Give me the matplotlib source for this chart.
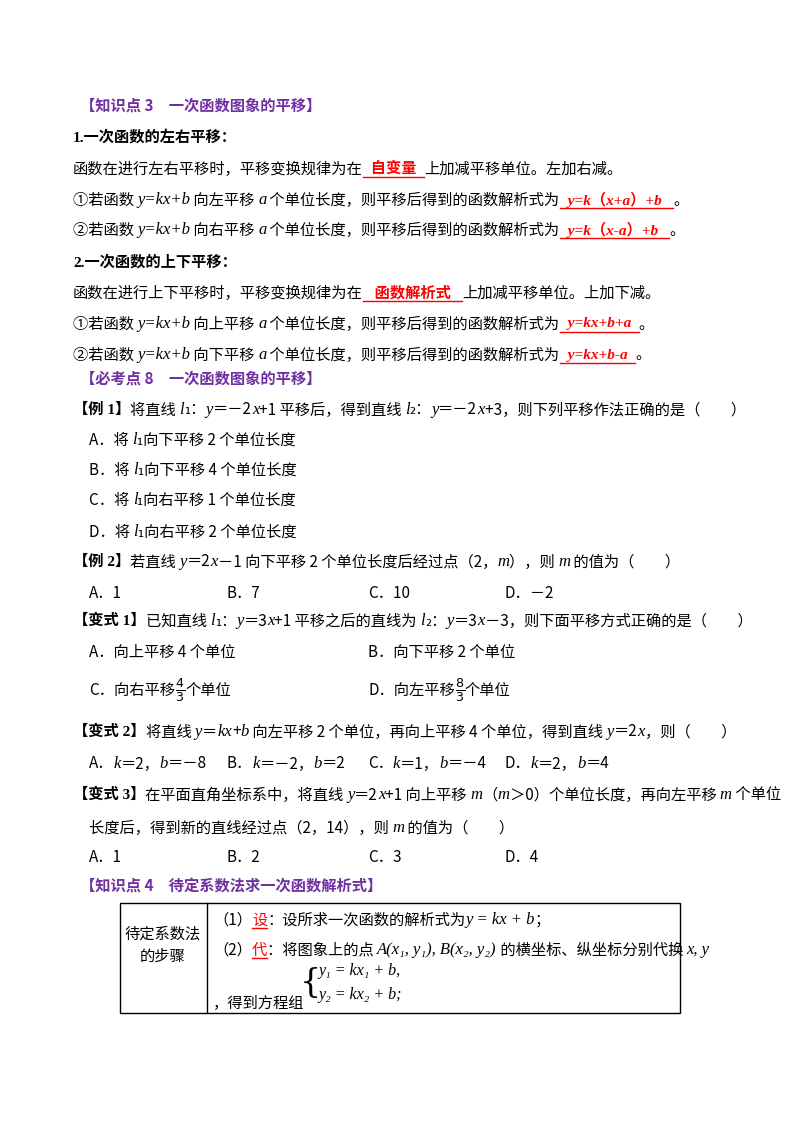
import matplotlib
matplotlib.use("Agg")
import matplotlib.pyplot as plt
from matplotlib.patches import Rectangle

plt.rcParams['font.family'] = ['Noto Sans CJK SC', 'DejaVu Sans']

W, H = 800, 1132
PURPLE = '#7030a0'
RED = '#ff0000'

# each line: (x, y, [(text, style), ...]); styles: n normal, b bold, i italic, r red answer, p purple heading
lines = [
    (80, 106, [('【知识点 3　一次函数图象的平移】', 'p')]),
    (73, 137, [('1.一次函数的左右平移：', 'b')]),
    (73, 169, [('函数在进行左右平移时，平移变换规律为在', 'n'), ('  自变量  ', 'r'), ('上加减平移单位。左加右减。', 'n')]),
    (73, 200, [('①若函数 ', 'n'), ('y=kx+b', 'i'), (' 向左平移 ', 'n'), ('a', 'i'), (' 个单位长度，则平移后得到的函数解析式为', 'n'), ('  y=k（x+a）+b   ', 'r'), ('。', 'n')]),
    (73, 230, [('②若函数 ', 'n'), ('y=kx+b', 'i'), (' 向右平移 ', 'n'), ('a', 'i'), (' 个单位长度，则平移后得到的函数解析式为', 'n'), ('  y=k（x-a）+b   ', 'r'), ('。', 'n')]),
    (73, 262, [('2.一次函数的上下平移：', 'b')]),
    (73, 293, [('函数在进行上下平移时，平移变换规律为在', 'n'), ('   函数解析式   ', 'r'), ('上加减平移单位。上加下减。', 'n')]),
    (73, 324, [('①若函数 ', 'n'), ('y=kx+b', 'i'), (' 向上平移 ', 'n'), ('a', 'i'), (' 个单位长度，则平移后得到的函数解析式为', 'n'), ('  y=kx+b+a  ', 'r'), ('。', 'n')]),
    (73, 355, [('②若函数 ', 'n'), ('y=kx+b', 'i'), (' 向下平移 ', 'n'), ('a', 'i'), (' 个单位长度，则平移后得到的函数解析式为', 'n'), ('  y=kx+b-a  ', 'r'), ('。', 'n')]),
    (80, 379, [('【必考点 8　一次函数图象的平移】', 'p')]),
    (73, 410, [('【例 1】', 'b'), ('将直线 ', 'n'), ('l', 'i'), ('₁：', 'n'), ('y', 'i'), ('＝－2', 'n'), ('x', 'i'), ('+1 平移后，得到直线 ', 'n'), ('l', 'i'), ('₂：', 'n'), ('y', 'i'), ('＝－2', 'n'), ('x', 'i'), ('+3，则下列平移作法正确的是（　　）', 'n')]),
    (89, 440, [('A．将 ', 'n'), ('l', 'i'), ('₁向下平移 2 个单位长度', 'n')]),
    (89, 470, [('B．将 ', 'n'), ('l', 'i'), ('₁向下平移 4 个单位长度', 'n')]),
    (89, 500, [('C．将 ', 'n'), ('l', 'i'), ('₁向右平移 1 个单位长度', 'n')]),
    (89, 532, [('D．将 ', 'n'), ('l', 'i'), ('₁向右平移 2 个单位长度', 'n')]),
    (73, 562, [('【例 2】', 'b'), ('若直线 ', 'n'), ('y', 'i'), ('＝2', 'n'), ('x', 'i'), ('－1 向下平移 2 个单位长度后经过点（2，', 'n'), ('m', 'i'), ('），则 ', 'n'), ('m', 'i'), (' 的值为（　　）', 'n')]),
    (73, 621, [('【变式 1】', 'b'), ('已知直线 ', 'n'), ('l', 'i'), ('₁：', 'n'), ('y', 'i'), ('＝3', 'n'), ('x', 'i'), ('+1 平移之后的直线为 ', 'n'), ('l', 'i'), ('₂：', 'n'), ('y', 'i'), ('＝3', 'n'), ('x', 'i'), ('－3，则下面平移方式正确的是（　　）', 'n')]),
    (73, 732, [('【变式 2】', 'b'), ('将直线 ', 'n'), ('y', 'i'), ('＝', 'n'), ('kx', 'i'), ('+', 'n'), ('b', 'i'), (' 向左平移 2 个单位，再向上平移 4 个单位，得到直线 ', 'n'), ('y', 'i'), ('＝2', 'n'), ('x', 'i'), ('，则（　　）', 'n')]),
    (73, 795, [('【变式 3】', 'b'), ('在平面直角坐标系中，将直线 ', 'n'), ('y', 'i'), ('＝2', 'n'), ('x', 'i'), ('+1 向上平移 ', 'n'), ('m', 'i'), ('（', 'n'), ('m', 'i'), ('＞0）个单位长度，再向左平移 ', 'n'), ('m', 'i'), (' 个单位', 'n')]),
    (89, 828, [('长度后，得到新的直线经过点（2，14），则 ', 'n'), ('m', 'i'), (' 的值为（　　）', 'n')]),
    (80, 887, [('【知识点 4　待定系数法求一次函数解析式】', 'p')]),
    (213, 920, [('（1）', 'n'), ('设', 'u'), ('：设所求一次函数的解析式为', 'n'), ('y = kx + b', 'i'), ('；', 'n')]),
    (213, 950, [('（2）', 'n'), ('代', 'u'), ('：将图象上的点 ', 'n'), ('A(x₁, y₁), B(x₂, y₂)', 'i'), (' 的横坐标、纵坐标分别代换 ', 'n'), ('x, y', 'i')]),
]

# options rows: (y, [(x, segments)])
options = [
    (593, [(89, [('A．1', 'n')]), (227, [('B．7', 'n')]), (368, [('C．10', 'n')]), (505, [('D．－2', 'n')])]),
    (652, [(89, [('A．向上平移 4 个单位', 'n')]), (368, [('B．向下平移 2 个单位', 'n')])]),
    (690, [(89, [('C．向右平移', 'n'), (r'$\frac{4}{3}$', 'f'), ('个单位', 'n')]), (368, [('D．向左平移', 'n'), (r'$\frac{8}{3}$', 'f'), ('个单位', 'n')])]),
    (764, [(89, [('A．', 'n'), ('k', 'i'), ('＝2，', 'n'), ('b', 'i'), ('＝－8', 'n')]),
           (227, [('B．', 'n'), ('k', 'i'), ('＝－2，', 'n'), ('b', 'i'), ('＝2', 'n')]),
           (368, [('C．', 'n'), ('k', 'i'), ('＝1，', 'n'), ('b', 'i'), ('＝－4', 'n')]),
           (505, [('D．', 'n'), ('k', 'i'), ('＝2，', 'n'), ('b', 'i'), ('＝4', 'n')])]),
    (857, [(89, [('A．1', 'n')]), (227, [('B．2', 'n')]), (368, [('C．3', 'n')]), (505, [('D．4', 'n')])]),
]

fig = plt.figure(figsize=(8, 11.32), dpi=100)
fig.patch.set_facecolor('white')
ax = fig.add_axes([0, 0, 1, 1])
ax.set_xlim(0, W)
ax.set_ylim(H, 0)
ax.axis('off')
fig.canvas.draw()
renderer = fig.canvas.get_renderer()

SERIF_I = ['Liberation Serif', 'Noto Sans CJK SC']
FS = 11


def draw_line(x, y, segs, fs=FS):
    for txt, st in segs:
        kw = dict(fontsize=fs, color='black', va='center', ha='left')
        if st == 'b':
            kw.update(fontweight='bold', family=['Liberation Serif', 'Noto Sans CJK SC'])
        elif st == 'p':
            kw.update(fontweight='bold', color=PURPLE)
        elif st == 'i':
            kw.update(style='italic', family=SERIF_I, fontsize=fs + 1)
        elif st == 'r':
            kw.update(fontweight='bold', style='italic', color=RED, family=SERIF_I)
        elif st == 'u':
            kw.update(color=RED)
        elif st == 'f':
            kw.update(fontsize=fs + 2)
        t = ax.text(x, y, txt, **kw)
        bb = t.get_window_extent(renderer)
        w = bb.width
        if st in ('r', 'u'):
            ax.plot([x, x + w], [y + 8, y + 8], color=RED, lw=1)
        x += w


for x, y, segs in lines:
    draw_line(x, y, segs)
for y, items in options:
    for x, segs in items:
        draw_line(x, y, segs)

# table
ax.add_patch(Rectangle((120, 903), 560, 110, fill=False, lw=1, color='black'))
ax.plot([207, 207], [903, 1013], color='black', lw=1)
ax.text(163, 945, '待定系数法\n的步骤', fontsize=FS, ha='center', va='center', linespacing=1.4)
draw_line(213, 1003, [('，得到方程组', 'n')])
ax.text(300, 983, '{', fontsize=24, va='center', ha='left', family='DejaVu Serif', fontweight='light')
draw_line(318, 971, [('y₁ = kx₁ + b,', 'i')], fs=10.5)
draw_line(318, 995, [('y₂ = kx₂ + b;', 'i')], fs=10.5)

fig.savefig('out.png', dpi=100, facecolor='white')
